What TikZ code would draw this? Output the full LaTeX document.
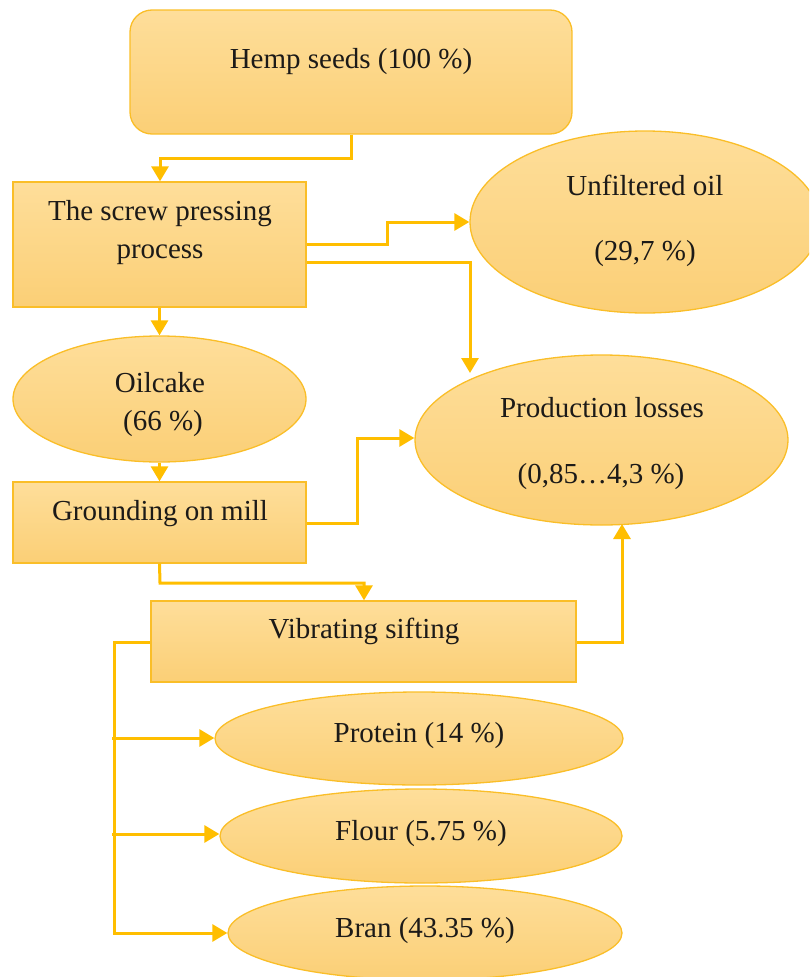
\documentclass[tikz,border=0pt]{standalone}
\usepackage{fontspec}
\setmainfont{Liberation Serif}
\usetikzlibrary{shapes.geometric,arrows.meta}
\definecolor{fillTop}{RGB}{254,222,154}
\definecolor{fillBot}{RGB}{251,207,118}
\definecolor{edge}{RGB}{250,190,40}
\definecolor{wire}{RGB}{255,190,0}
\definecolor{ink}{RGB}{28,26,24}
\tikzset{
  boxshape/.style={draw=edge, line width=1.3pt, top color=fillTop, bottom color=fillBot, inner sep=0pt},
  rbox/.style={boxshape, rectangle},
  ovalbox/.style={boxshape, ellipse},
  lbl/.style={anchor=base, inner sep=0pt, text=ink, font=\fontsize{29}{35}\selectfont},
  conn/.style={draw=wire, line width=3pt, -{Triangle[length=15pt,width=17pt]}},
}
\begin{document}
\begin{tikzpicture}[x=1pt,y=-1pt]
\useasboundingbox (0,0) rectangle (809,977);
\begin{scope}
\clip (0,0) rectangle (809,977);
% shapes
\node[rbox, rounded corners=22pt, minimum width=442pt, minimum height=124pt] (hemp) at (351,72) {};
\node[rbox, minimum width=293pt, minimum height=125pt] (screw) at (159.5,244.5) {};
\node[ovalbox, minimum width=350pt, minimum height=182pt] (oil) at (645,222) {};
\node[ovalbox, minimum width=293pt, minimum height=126pt] (cake) at (159.5,399) {};
\node[rbox, minimum width=293pt, minimum height=81pt] (mill) at (159.5,522.5) {};
\node[ovalbox, minimum width=373pt, minimum height=170pt] (loss) at (601.5,440) {};
\node[rbox, minimum width=425pt, minimum height=81pt] (sift) at (363.5,641.5) {};
\node[ovalbox, minimum width=408pt, minimum height=93pt] (prot) at (419,738.5) {};
\node[ovalbox, minimum width=402pt, minimum height=94pt] (flour) at (421,836) {};
\node[ovalbox, minimum width=394pt, minimum height=94pt] (bran) at (425,933) {};
% labels
\node[lbl] (themp) at (351,68) {Hemp seeds (100 \%)};
\node[lbl] (tscrewA) at (160,220) {The screw pressing};
\node[lbl] (tscrewB) at (160,258) {process};
\node[lbl] (toilA) at (645,195) {Unfiltered oil};
\node[lbl] (toilB) at (645,260) {(29,7 \%)};
\node[lbl] (tcakeA) at (160,392) {Oilcake};
\node[lbl] (tcakeB) at (163,430) {(66 \%)};
\node[lbl] (tlossA) at (602,417) {Production losses};
\node[lbl] (tlossB) at (601,483) {(0,85…4,3 \%)};
\node[lbl] (tmill) at (160,520) {Grounding on mill};
\node[lbl] (tsift) at (364,638) {Vibrating sifting};
\node[lbl] (tprot) at (419,742) {Protein (14 \%)};
\node[lbl] (tflour) at (421,840) {Flour (5.75 \%)};
\node[lbl] (tbran) at (425,937) {Bran (43.35 \%)};
% connectors
\coordinate (h1) at (351,158);
\coordinate (h2) at (160,158);
\draw[conn] (hemp.south -| h1) -- (h1) -- (h2) -- (screw.north -| h2);
\coordinate (o1) at (387,244);
\coordinate (o2) at (387,222);
\draw[conn] (screw.east |- o1) -- (o1) -- (o2) -- (oil.west |- o2);
\coordinate (l1) at (470,262);
\coordinate (l2) at (470,373);
\draw[conn] (screw.east |- l1) -- (l1) -- (l2);
\draw[conn] (screw.south) -- (cake.north);
\draw[conn] (cake.south) -- (mill.north);
\coordinate (m1) at (357,523);
\coordinate (m2) at (357,438);
\draw[conn] (mill.east |- m1) -- (m1) -- (m2) -- (loss.west |- m2);
\coordinate (g1) at (160,583);
\coordinate (g2) at (364,583);
\draw[conn] (mill.south) -- (g1) -- (g2) -- (sift.north -| g2);
\coordinate (s1) at (622,642);
\coordinate (s2) at (622,524);
\draw[conn] (sift.east |- s1) -- (s1) -- (s2);
\coordinate (v1) at (114,642);
\coordinate (v2) at (114,933);
\coordinate (v3) at (112,738);
\coordinate (v4) at (112,834);
\draw[conn] (sift.west |- v1) -- (v1) -- (v2) -- (bran.west |- v2);
\draw[conn] (v3) -- (prot.west |- v3);
\draw[conn] (v4) -- (flour.west |- v4);
\end{scope}
\end{tikzpicture}
\end{document}
